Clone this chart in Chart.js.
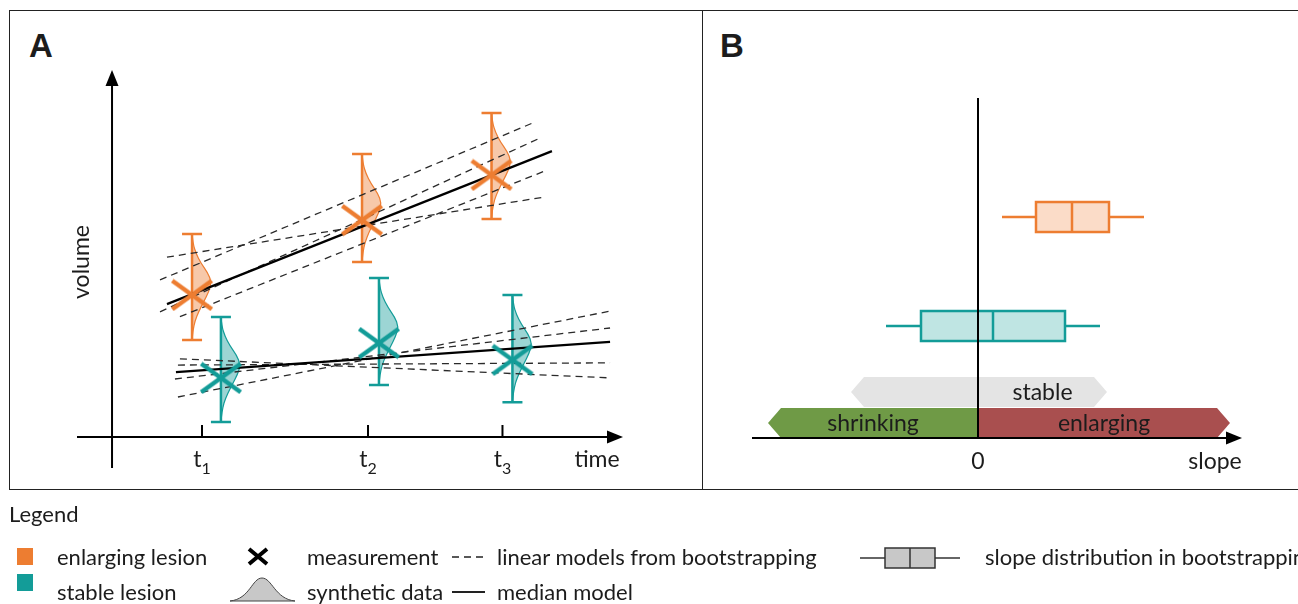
<!DOCTYPE html>
<html>
<head>
<meta charset="utf-8">
<title>Lesion volume models and slope distribution</title>
<script src="https://cdn.jsdelivr.net/npm/chart.js@4.4.1/dist/chart.umd.min.js"></script>
<style>
  body { margin: 0; background: #fff; width: 1298px; height: 604px; overflow: hidden; position: relative;
         font-family: Lato, "Open Sans", sans-serif; color: #1c1c1c; }
  .frame { position: absolute; border: 1px solid #222; box-sizing: border-box; }
  #frameA { left: 9px; top: 10px; width: 694px; height: 480px; }
  #frameB { left: 702px; top: 10px; width: 700px; height: 480px; }
  canvas { position: absolute; }
  #chartA { left: 0; top: 0; }
  #chartB { left: 702px; top: 0; }
  #legendIcons { left: 0; top: 490px; }
  .panel { position: absolute; font-family: "Liberation Sans", Arial, sans-serif; font-weight: bold; font-size: 33px; line-height: 33px; }
  .lg { position: absolute; font-size: 22px; line-height: 28px; height: 28px; white-space: nowrap; }
</style>
</head>
<body>
<div class="frame" id="frameA"></div>
<div class="frame" id="frameB"></div>
<div class="panel" style="left:29px; top:29px;">A</div>
<div class="panel" style="left:720px; top:29px;">B</div>
<canvas id="chartA" width="702" height="489"></canvas>
<canvas id="chartB" width="596" height="489"></canvas>
<canvas id="legendIcons" width="1298" height="114"></canvas>

<div class="lg" style="left:9px; top:500px;">Legend</div>
<div class="lg" style="left:57px; top:543px;">enlarging lesion</div>
<div class="lg" style="left:57px; top:578px;">stable lesion</div>
<div class="lg" style="left:307px; top:543px;">measurement</div>
<div class="lg" style="left:307px; top:578px;">synthetic data</div>
<div class="lg" style="left:497px; top:543px;">linear models from bootstrapping</div>
<div class="lg" style="left:497px; top:578px;">median model</div>
<div class="lg" style="left:985px; top:543px;">slope distribution in bootstrapping</div>

<script>
const FONT = 'Lato, "Open Sans", sans-serif';
const INK = '#1c1c1c';
const ORANGE = '#ed7d31';
const ORANGE_FILL = 'rgba(237, 125, 49, 0.42)';
const ORANGE_BOX = '#fbdcc8';
const TEAL = '#139c98';
const TEAL_FILL = 'rgba(19, 156, 152, 0.42)';
const TEAL_BOX = '#bfe5e3';

// ---- panel A data (time / volume) ----
const tickTimes = [1, 2, 2.81];
const tickLabels = ['t1', 't2', 't3'];

const enlargingTimes = [0.94, 1.964, 2.744];
const enlargingVolume = [3.87, 5.91, 7.14];
const enlargingLow = [2.64, 4.77, 5.94];
const enlargingHigh = [5.53, 7.71, 8.83];

const stableTimes = [1.114, 2.066, 2.87];
const stableVolume = [1.61, 2.56, 2.10];
const stableLow = [0.41, 1.42, 0.95];
const stableHigh = [3.27, 4.33, 3.87];

// relative density of the synthetic data, top of the range to the bottom
const synthProfile = [0, 0.05, 0.2, 0.45, 0.8, 1, 0.85, 0.6, 0.35, 0.15, 0.05, 0];
const synthWidth = 0.118;

// bootstrapped linear models [tStart, vStart, tEnd, vEnd]
const enlargingModels = [
    [0.789, 4.90, 3.066, 6.54],
    [0.747, 4.28, 2.994, 8.56],
    [0.747, 3.41, 3.048, 8.17],
    [0.867, 3.28, 3.066, 7.25]
];
const enlargingMedian = [0.789, 3.62, 3.108, 7.79];
const stableModels = [
    [0.867, 2.13, 3.458, 1.61],
    [0.855, 1.96, 3.458, 2.02],
    [0.837, 1.58, 3.458, 2.97],
    [0.855, 1.09, 3.458, 3.43]
];
const stableMedian = [0.843, 1.77, 3.458, 2.59];

const timeMin = 0.247, timeMax = 3.536, volMin = -0.845, volMax = 10;
const volumeAxisAt = 0.458;

// ---- panel B data (slope) ----
const slopeRows = [2, 1];
const slopeColors = [ORANGE, TEAL];
const slopeFills = [ORANGE_BOX, TEAL_BOX];
const slopeWhiskerLow = [0.24, -0.92];
const slopeQ1 = [0.58, -0.57];
const slopeMedian = [0.94, 0.15];
const slopeQ3 = [1.31, 0.87];
const slopeWhiskerHigh = [1.66, 1.22];

const zoneLabels = ['stable', 'shrinking', 'enlarging'];
const zoneFrom = [-1.27, -2.10, 0];
const zoneTo = [1.29, 0, 2.52];
const zoneRows = [0.394, 0.11, 0.11];
const zoneColors = ['#e4e4e4', '#6f9a46', '#a94f4f'];

const slopeTicks = [0];
const slopeTickLabels = ['0'];
const slopeMin = -2.26, slopeMax = 2.64, rowMin = -0.0275, rowMax = 3.092;

function crossImage(color, w, h, lw) {
    const c = document.createElement('canvas');
    c.width = w;
    c.height = h;
    const g = c.getContext('2d');
    g.strokeStyle = color;
    g.lineWidth = lw;
    const p = lw / 2;
    g.beginPath();
    g.moveTo(p, p); g.lineTo(w - p, h - p);
    g.moveTo(p, h - p); g.lineTo(w - p, p);
    g.stroke();
    return c;
}

function modelLine(m, dashed) {
    return {
        showLine: true,
        data: [{ x: m[0], y: m[1] }, { x: m[2], y: m[3] }],
        borderColor: dashed ? '#2a2a2a' : '#000',
        borderWidth: dashed ? 1.3 : 2.2,
        borderDash: dashed ? [7, 5] : [],
        pointRadius: 0
    };
}

function markers(times, values, color) {
    return {
        data: times.map((t, i) => ({ x: t, y: values[i] })),
        pointStyle: crossImage(color, 44, 33, 4.5),
        pointRadius: 10
    };
}

function arrowHead(ctx, x, y, dir) {
    ctx.beginPath();
    if (dir === 'up') {
        ctx.moveTo(x, y); ctx.lineTo(x - 6.5, y + 16); ctx.lineTo(x + 6.5, y + 16);
    } else {
        ctx.moveTo(x, y); ctx.lineTo(x - 16, y - 6.5); ctx.lineTo(x - 16, y + 6.5);
    }
    ctx.closePath();
    ctx.fill();
}

function drawViolin(ctx, xs, ys, t, lo, hi, color, fill) {
    const x0 = xs.getPixelForValue(t);
    const w = xs.getPixelForValue(t + synthWidth) - x0;
    const yTop = ys.getPixelForValue(hi);
    const yBot = ys.getPixelForValue(lo);
    const n = synthProfile.length - 1;
    const pts = synthProfile.map((d, i) => [x0 + d * w, yTop + (yBot - yTop) * i / n]);
    ctx.beginPath();
    ctx.moveTo(pts[0][0], pts[0][1]);
    for (let i = 1; i < n; i++) {
        const mx = (pts[i][0] + pts[i + 1][0]) / 2;
        const my = (pts[i][1] + pts[i + 1][1]) / 2;
        ctx.quadraticCurveTo(pts[i][0], pts[i][1], mx, my);
    }
    ctx.lineTo(pts[n][0], pts[n][1]);
    ctx.closePath();
    ctx.fillStyle = fill;
    ctx.fill();
    ctx.strokeStyle = color;
    ctx.lineWidth = 1.2;
    ctx.stroke();

    // error bar
    ctx.lineWidth = 2.5;
    ctx.beginPath();
    ctx.moveTo(x0, yTop); ctx.lineTo(x0, yBot);
    ctx.moveTo(x0 - 10, yTop); ctx.lineTo(x0 + 10, yTop);
    ctx.moveTo(x0 - 10, yBot); ctx.lineTo(x0 + 10, yBot);
    ctx.stroke();
}

const volumePanel = {
    id: 'volumePanel',
    beforeDatasetsDraw(chart) {
        const { ctx, scales: { x: xs, y: ys }, chartArea: area } = chart;
        const y0 = ys.getPixelForValue(0);
        const xAx = xs.getPixelForValue(volumeAxisAt);
        ctx.save();
        ctx.strokeStyle = '#000';
        ctx.fillStyle = '#000';
        ctx.lineWidth = 2;
        ctx.beginPath();
        ctx.moveTo(xAx, area.bottom); ctx.lineTo(xAx, area.top + 10);
        ctx.moveTo(area.left, y0); ctx.lineTo(area.right - 10, y0);
        tickTimes.forEach(t => {
            const px = xs.getPixelForValue(t);
            ctx.moveTo(px, y0 - 12); ctx.lineTo(px, y0);
        });
        ctx.stroke();
        arrowHead(ctx, xAx, area.top, 'up');
        arrowHead(ctx, area.right, y0, 'right');

        ctx.fillStyle = INK;
        ctx.textBaseline = 'alphabetic';
        tickLabels.forEach((lab, i) => {
            const px = xs.getPixelForValue(tickTimes[i]);
            ctx.font = '23px ' + FONT;
            const wBase = ctx.measureText(lab[0]).width;
            ctx.font = '16px ' + FONT;
            const wSub = ctx.measureText(lab.slice(1)).width;
            const start = px - (wBase + wSub) / 2;
            ctx.font = '23px ' + FONT;
            ctx.textAlign = 'left';
            ctx.fillText(lab[0], start, y0 + 30);
            ctx.font = '16px ' + FONT;
            ctx.fillText(lab.slice(1), start + wBase, y0 + 37);
        });
        ctx.font = '23px ' + FONT;
        ctx.textAlign = 'center';
        ctx.fillText('time', area.right - 26, y0 + 30);
        ctx.save();
        ctx.translate(82, 262);
        ctx.rotate(-Math.PI / 2);
        ctx.textBaseline = 'middle';
        ctx.fillText('volume', 0, 0);
        ctx.restore();

        enlargingTimes.forEach((t, i) =>
            drawViolin(ctx, xs, ys, t, enlargingLow[i], enlargingHigh[i], ORANGE, ORANGE_FILL));
        stableTimes.forEach((t, i) =>
            drawViolin(ctx, xs, ys, t, stableLow[i], stableHigh[i], TEAL, TEAL_FILL));
        ctx.restore();
    }
};

new Chart(document.getElementById('chartA'), {
    type: 'scatter',
    data: {
        datasets: [
            markers(enlargingTimes, enlargingVolume, ORANGE),
            markers(stableTimes, stableVolume, TEAL),
            modelLine(enlargingMedian, false),
            modelLine(stableMedian, false),
            ...enlargingModels.map(m => modelLine(m, true)),
            ...stableModels.map(m => modelLine(m, true))
        ]
    },
    options: {
        responsive: false,
        animation: false,
        events: [],
        layout: { padding: { left: 77, right: 79, top: 70, bottom: 21 } },
        plugins: { legend: { display: false }, tooltip: { enabled: false } },
        scales: {
            x: { type: 'linear', display: false, min: timeMin, max: timeMax },
            y: { type: 'linear', display: false, min: volMin, max: volMax }
        }
    },
    plugins: [volumePanel]
});

// ---- panel B ----
const slopePanel = {
    id: 'slopePanel',
    beforeDatasetsDraw(chart) {
        const { ctx, scales: { x: xs, y: ys } } = chart;
        const tip = 13, half = 15;
        ctx.save();
        zoneLabels.forEach((lab, i) => {
            const a = xs.getPixelForValue(zoneFrom[i]);
            const b = xs.getPixelForValue(zoneTo[i]);
            const yc = ys.getPixelForValue(zoneRows[i]);
            const left = zoneFrom[i] < 0 ? a + tip : a;
            const right = zoneTo[i] > 0 ? b - tip : b;
            ctx.beginPath();
            ctx.moveTo(left, yc - half);
            ctx.lineTo(right, yc - half);
            if (zoneTo[i] > 0) ctx.lineTo(b, yc);
            ctx.lineTo(right, yc + half);
            ctx.lineTo(left, yc + half);
            if (zoneFrom[i] < 0) ctx.lineTo(a, yc);
            ctx.closePath();
            ctx.fillStyle = zoneColors[i];
            ctx.fill();
            const lo = (zoneFrom[i] < 0 && zoneTo[i] > 0) ? xs.getPixelForValue(0) : a;
            ctx.fillStyle = INK;
            ctx.font = '23px ' + FONT;
            ctx.textAlign = 'center';
            ctx.textBaseline = 'middle';
            ctx.fillText(lab, (lo + b) / 2, yc + 1);
        });
        ctx.restore();
    },
    afterDatasetsDraw(chart) {
        const { ctx, scales: { x: xs, y: ys }, chartArea: area } = chart;
        const half = 15;
        ctx.save();
        slopeRows.forEach((row, i) => {
            const yc = ys.getPixelForValue(row);
            const q1 = xs.getPixelForValue(slopeQ1[i]);
            const q3 = xs.getPixelForValue(slopeQ3[i]);
            const md = xs.getPixelForValue(slopeMedian[i]);
            ctx.fillStyle = slopeFills[i];
            ctx.strokeStyle = slopeColors[i];
            ctx.lineWidth = 2.5;
            ctx.fillRect(q1, yc - half, q3 - q1, 2 * half);
            ctx.strokeRect(q1, yc - half, q3 - q1, 2 * half);
            ctx.beginPath();
            ctx.moveTo(md, yc - half); ctx.lineTo(md, yc + half);
            ctx.stroke();
        });
        const x0 = xs.getPixelForValue(0);
        ctx.strokeStyle = '#000';
        ctx.fillStyle = '#000';
        ctx.lineWidth = 2;
        ctx.beginPath();
        ctx.moveTo(x0, area.top); ctx.lineTo(x0, area.bottom);
        ctx.moveTo(area.left, area.bottom); ctx.lineTo(area.right - 10, area.bottom);
        ctx.stroke();
        arrowHead(ctx, area.right, area.bottom, 'right');

        ctx.fillStyle = INK;
        ctx.font = '23px ' + FONT;
        ctx.textAlign = 'center';
        ctx.textBaseline = 'alphabetic';
        slopeTicks.forEach((v, i) => ctx.fillText(slopeTickLabels[i], xs.getPixelForValue(v), area.bottom + 31));
        ctx.fillText('slope', area.right - 27, area.bottom + 31);
        ctx.restore();
    }
};

new Chart(document.getElementById('chartB'), {
    type: 'scatter',
    data: {
        datasets: slopeRows.map((row, i) => ({
            showLine: true,
            data: [{ x: slopeWhiskerLow[i], y: row }, { x: slopeWhiskerHigh[i], y: row }],
            borderColor: slopeColors[i],
            borderWidth: 2.5,
            pointRadius: 0
        }))
    },
    options: {
        responsive: false,
        animation: false,
        events: [],
        layout: { padding: { left: 50, right: 56, top: 98, bottom: 51 } },
        plugins: { legend: { display: false }, tooltip: { enabled: false } },
        scales: {
            x: { type: 'linear', display: false, min: slopeMin, max: slopeMax },
            y: { type: 'linear', display: false, min: rowMin, max: rowMax }
        }
    },
    plugins: [slopePanel]
});

// ---- legend icons ----
const lg = document.getElementById('legendIcons').getContext('2d');
lg.fillStyle = ORANGE;
lg.fillRect(17, 58, 16, 17);
lg.fillStyle = TEAL;
lg.fillRect(17, 84, 16, 17);
lg.drawImage(crossImage('#000', 22, 19, 4), 247, 57);

lg.beginPath();
lg.moveTo(230, 111);
lg.bezierCurveTo(250, 109, 252, 88, 262, 88);
lg.bezierCurveTo(272, 88, 275, 109, 295, 111);
lg.closePath();
lg.fillStyle = '#c8c8c8';
lg.fill();
lg.strokeStyle = '#444';
lg.lineWidth = 1;
lg.stroke();

lg.strokeStyle = '#222';
lg.lineWidth = 1.3;
lg.setLineDash([7, 5]);
lg.beginPath();
lg.moveTo(452, 67); lg.lineTo(485, 67);
lg.stroke();
lg.setLineDash([]);
lg.lineWidth = 2;
lg.beginPath();
lg.moveTo(452, 102); lg.lineTo(485, 102);
lg.stroke();

lg.lineWidth = 1.5;
lg.strokeStyle = '#333';
lg.beginPath();
lg.moveTo(860, 68); lg.lineTo(960, 68);
lg.stroke();
lg.fillStyle = '#c8c8c8';
lg.fillRect(885, 58, 50, 20);
lg.strokeRect(885, 58, 50, 20);
lg.beginPath();
lg.moveTo(910, 58); lg.lineTo(910, 78);
lg.stroke();
</script>
</body>
</html>
